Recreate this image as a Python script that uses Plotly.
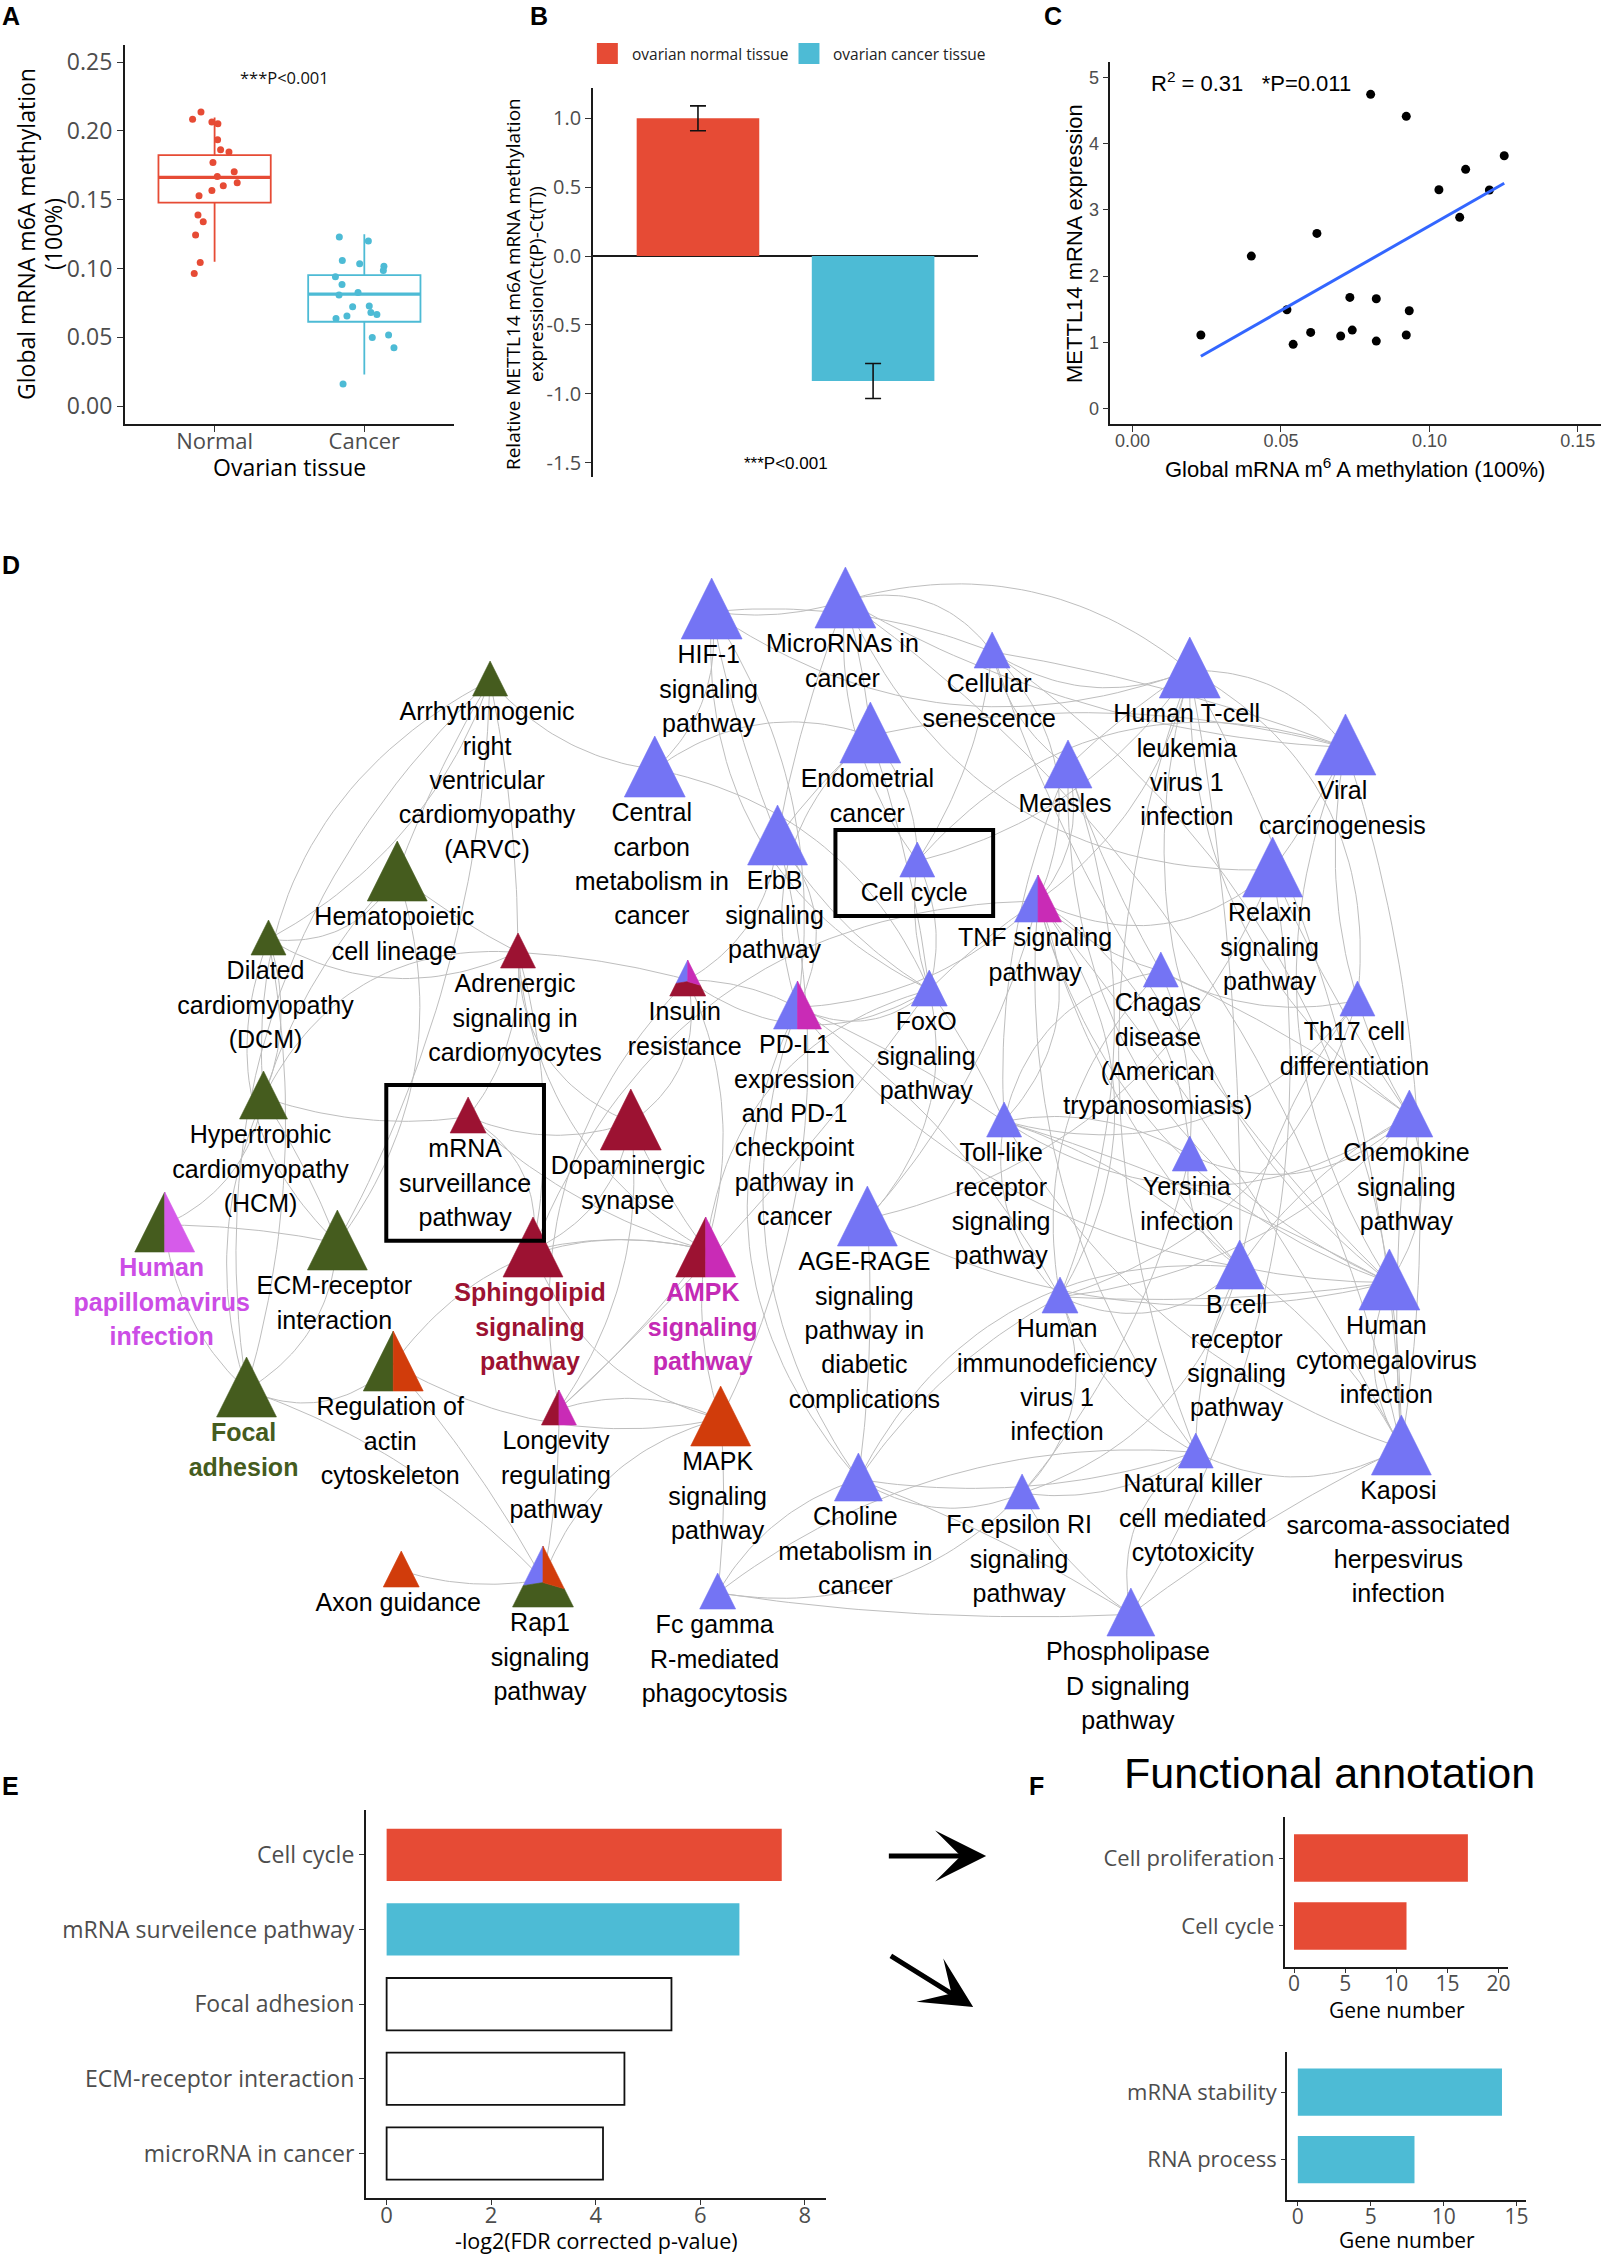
import numpy as np
import plotly.graph_objects as go

W, H = 1604, 2257
RED, BLUE = "#E64B35", "#4DBBD5"
GRAY = "#4D4D4D"
OS = "Open Sans"
AR = "Liberation Sans, Arial, sans-serif"

# ---------------- Panel A data ----------------
a_groups = ["Normal", "Cancer"]
a_q1 = [0.1478, 0.0613]
a_median = [0.1662, 0.0814]
a_q3 = [0.1824, 0.0952]
a_low = [0.1049, 0.0230]
a_high = [0.2098, 0.1248]
a_normal_vals = [0.2137, 0.2085, 0.2064, 0.2051, 0.1935, 0.1863, 0.1846, 0.1771, 0.1703, 0.1669,
                 0.1623, 0.1601, 0.1567, 0.1528, 0.1388, 0.1339, 0.1243, 0.1044, 0.0964]
a_normal_jit = [-0.091, -0.147, -0.018, 0.022, 0.020, 0.040, 0.096, -0.011, 0.131, 0.018,
                0.151, 0.058, -0.018, -0.104, -0.111, -0.076, -0.127, -0.096, -0.136]
a_cancer_vals = [0.1228, 0.1199, 0.1058, 0.1034, 0.1017, 0.0986, 0.0940, 0.0884, 0.0826, 0.0807,
                 0.0722, 0.0727, 0.0681, 0.0666, 0.0637, 0.0654, 0.0499, 0.0516, 0.0424, 0.0160]
a_cancer_jit = [-0.167, 0.027, -0.147, -0.031, 0.131, 0.127, -0.193, -0.149, -0.042, -0.169,
                -0.078, 0.033, 0.044, 0.084, -0.189, -0.116, 0.053, 0.162, 0.198, -0.142]
a_ticks = [0.00, 0.05, 0.10, 0.15, 0.20, 0.25]

# ---------------- Panel B data ----------------
b_groups = ["ovarian normal tissue", "ovarian cancer tissue"]
b_vals = [1.0, -0.907]
b_err = [0.09, 0.127]
b_ticks = [-1.5, -1.0, -0.5, 0.0, 0.5, 1.0]

# ---------------- Panel C data ----------------
c_x = [0.0802, 0.0922, 0.1252, 0.1122, 0.1032, 0.1202, 0.1102, 0.0621, 0.0400, 0.0732,
       0.0821, 0.0932, 0.0520, 0.0600, 0.0740, 0.0701, 0.0922, 0.0821, 0.0541, 0.0230]
c_y = [4.748, 4.415, 3.820, 3.614, 3.306, 3.301, 2.888, 2.646, 2.303, 1.678,
       1.658, 1.477, 1.492, 1.149, 1.184, 1.094, 1.109, 1.018, 0.968, 1.109]
c_xticks = [0.00, 0.05, 0.10, 0.15]
c_yticks = [0, 1, 2, 3, 4, 5]

# ---------------- Panel D network data ----------------
net_ids = ["arvc", "hema", "dcm", "hcm", "hpv", "ecm", "focal", "actin", "adren", "mrna",
           "dopa", "sphingo", "ampk", "longev", "mapk", "axon", "rap1", "fcg", "insulin", "hif",
           "central", "erbb", "pdl1", "foxo", "mirna", "senesc", "endo", "cellcycle", "htlv", "measles",
           "viral", "tnf", "relaxin", "chagas", "th17", "toll", "chemo", "yersinia", "agerage", "bcell",
           "hcmv", "hiv", "kaposi", "nk", "choline", "fce", "pld"]
net_x = [491, 398, 269, 264, 165, 338, 247, 394, 519, 469,
         632, 534, 707, 560, 722, 402, 544, 719, 689, 713,
         656, 779, 799, 931, 847, 994, 872, 919, 1192, 1070,
         1348, 1040, 1275, 1163, 1360, 1006, 1412, 1192, 869, 1242,
         1392, 1062, 1404, 1198, 860, 1024, 1133]
net_base = [696, 901, 955, 1119, 1252, 1270, 1417, 1391, 968, 1133,
            1150, 1277, 1277, 1425, 1446, 1587, 1607, 1609, 996, 639,
            797, 865, 1029, 1006, 628, 668, 763, 877, 698, 788,
            775, 922, 897, 987, 1016, 1137, 1137, 1171, 1246, 1289,
            1310, 1313, 1475, 1468, 1501, 1509, 1636]
net_size = [35, 60, 35, 48, 60, 60, 60, 60, 35, 36,
            61, 60, 60, 35, 60, 36, 61, 36, 36, 61,
            61, 60, 48, 36, 61, 36, 61, 35, 61, 48,
            61, 47, 60, 35, 35, 35, 47, 35, 60, 49,
            61, 36, 60, 35, 48, 35, 48]
net_fill = ["G", "G", "G", "G", "GV", "G", "G", "GO", "R", "R",
            "R", "R", "RM", "RM", "O", "O", "BOG", "B", "BMR", "B",
            "B", "B", "BM", "B", "B", "B", "B", "B", "B", "B",
            "B", "BM", "B", "B", "B", "B", "B", "B", "B", "B",
            "B", "B", "B", "B", "B", "B", "B"]
net_labels = [
    ["Arrhythmogenic", "right", "ventricular", "cardiomyopathy", "(ARVC)"],
    ["Hematopoietic", "cell lineage"],
    ["Dilated", "cardiomyopathy", "(DCM)"],
    ["Hypertrophic", "cardiomyopathy", "(HCM)"],
    ["Human", "papillomavirus", "infection"],
    ["ECM-receptor", "interaction"],
    ["Focal", "adhesion"],
    ["Regulation of", "actin", "cytoskeleton"],
    ["Adrenergic", "signaling in", "cardiomyocytes"],
    ["mRNA", "surveillance", "pathway"],
    ["Dopaminergic", "synapse"],
    ["Sphingolipid", "signaling", "pathway"],
    ["AMPK", "signaling", "pathway"],
    ["Longevity", "regulating", "pathway"],
    ["MAPK", "signaling", "pathway"],
    ["Axon guidance"],
    ["Rap1", "signaling", "pathway"],
    ["Fc gamma", "R-mediated", "phagocytosis"],
    ["Insulin", "resistance"],
    ["HIF-1", "signaling", "pathway"],
    ["Central", "carbon", "metabolism in", "cancer"],
    ["ErbB", "signaling", "pathway"],
    ["PD-L1", "expression", "and PD-1", "checkpoint", "pathway in", "cancer"],
    ["FoxO", "signaling", "pathway"],
    ["MicroRNAs in", "cancer"],
    ["Cellular", "senescence"],
    ["Endometrial", "cancer"],
    ["Cell cycle"],
    ["Human T-cell", "leukemia", "virus 1", "infection"],
    ["Measles"],
    ["Viral", "carcinogenesis"],
    ["TNF signaling", "pathway"],
    ["Relaxin", "signaling", "pathway"],
    ["Chagas", "disease", "(American", "trypanosomiasis)"],
    ["Th17 cell", "differentiation"],
    ["Toll-like", "receptor", "signaling", "pathway"],
    ["Chemokine", "signaling", "pathway"],
    ["Yersinia", "infection"],
    ["AGE-RAGE", "signaling", "pathway in", "diabetic", "complications"],
    ["B cell", "receptor", "signaling", "pathway"],
    ["Human", "cytomegalovirus", "infection"],
    ["Human", "immunodeficiency", "virus 1", "infection"],
    ["Kaposi", "sarcoma-associated", "herpesvirus", "infection"],
    ["Natural killer", "cell mediated", "cytotoxicity"],
    ["Choline", "metabolism in", "cancer"],
    ["Fc epsilon RI", "signaling", "pathway"],
    ["Phospholipase", "D signaling", "pathway"],
]
net_label_style = {"hpv": "V", "focal": "G", "sphingo": "R", "ampk": "M"}
net_highlight = ["cellcycle", "mrna"]
net_edges = [
    ("arvc", "hema"), ("arvc", "dcm"), ("arvc", "hcm"), ("arvc", "ecm"), ("arvc", "focal"), ("arvc", "adren"),
    ("arvc", "central"), ("hema", "dcm"), ("hema", "hcm"), ("hema", "ecm"), ("hema", "adren"), ("dcm", "hcm"),
    ("dcm", "ecm"), ("dcm", "focal"), ("dcm", "adren"), ("hcm", "ecm"), ("hcm", "focal"), ("hcm", "adren"),
    ("hcm", "mrna"), ("ecm", "focal"), ("ecm", "hpv"), ("focal", "hpv"), ("focal", "actin"), ("focal", "rap1"),
    ("hpv", "hcm"), ("actin", "rap1"), ("actin", "mapk"), ("actin", "ampk"), ("axon", "rap1"), ("rap1", "mapk"),
    ("rap1", "longev"),
    ("adren", "mrna"), ("adren", "dopa"), ("adren", "sphingo"), ("adren", "ampk"), ("adren", "insulin"),
    ("mrna", "dopa"), ("mrna", "sphingo"), ("mrna", "ampk"), ("dopa", "sphingo"), ("dopa", "ampk"),
    ("dopa", "longev"), ("dopa", "insulin"), ("sphingo", "ampk"), ("sphingo", "mapk"), ("ampk", "longev"),
    ("ampk", "insulin"), ("ampk", "foxo"), ("ampk", "mapk"), ("longev", "insulin"), ("longev", "foxo"),
    ("longev", "mapk"), ("insulin", "foxo"), ("insulin", "pdl1"), ("insulin", "erbb"), ("mapk", "fcg"),
    ("mapk", "erbb"), ("sphingo", "tnf"),
    ("hif", "mirna"), ("hif", "central"), ("hif", "erbb"), ("hif", "pdl1"), ("hif", "foxo"), ("hif", "senesc"),
    ("hif", "htlv"), ("mirna", "endo"), ("mirna", "cellcycle"), ("mirna", "senesc"), ("mirna", "viral"),
    ("mirna", "htlv"), ("mirna", "erbb"), ("mirna", "kaposi"), ("mirna", "relaxin"), ("senesc", "cellcycle"),
    ("senesc", "htlv"), ("senesc", "viral"), ("senesc", "measles"), ("senesc", "tnf"), ("senesc", "hcmv"),
    ("senesc", "kaposi"), ("endo", "erbb"), ("endo", "cellcycle"), ("endo", "pdl1"), ("endo", "viral"),
    ("endo", "central"), ("endo", "foxo"), ("cellcycle", "htlv"), ("cellcycle", "viral"), ("cellcycle", "foxo"),
    ("htlv", "viral"), ("htlv", "measles"), ("htlv", "tnf"), ("htlv", "hcmv"), ("htlv", "kaposi"),
    ("htlv", "chemo"), ("htlv", "bcell"), ("htlv", "nk"), ("htlv", "th17"), ("measles", "toll"),
    ("measles", "tnf"), ("measles", "chagas"), ("measles", "hiv"), ("measles", "hcmv"), ("viral", "kaposi"),
    ("viral", "hcmv"), ("viral", "relaxin"), ("viral", "chemo"), ("tnf", "toll"), ("tnf", "chagas"),
    ("tnf", "yersinia"), ("tnf", "foxo"), ("tnf", "pdl1"), ("tnf", "relaxin"), ("tnf", "agerage"),
    ("tnf", "hcmv"), ("tnf", "kaposi"), ("tnf", "nk"), ("tnf", "hiv"), ("tnf", "bcell"), ("relaxin", "agerage"),
    ("relaxin", "chemo"), ("relaxin", "pld"), ("chagas", "toll"), ("chagas", "yersinia"), ("chagas", "hiv"),
    ("chagas", "chemo"), ("chagas", "th17"), ("th17", "toll"), ("th17", "bcell"), ("th17", "hiv"),
    ("toll", "pdl1"), ("toll", "yersinia"), ("toll", "chemo"), ("toll", "bcell"), ("toll", "hiv"),
    ("toll", "hcmv"), ("toll", "kaposi"), ("chemo", "yersinia"), ("chemo", "bcell"), ("chemo", "hcmv"),
    ("chemo", "kaposi"), ("chemo", "hiv"), ("yersinia", "bcell"), ("yersinia", "fce"), ("agerage", "foxo"),
    ("agerage", "choline"), ("agerage", "hcmv"), ("bcell", "hiv"), ("bcell", "nk"), ("bcell", "fce"),
    ("bcell", "hcmv"), ("bcell", "pdl1"), ("bcell", "choline"), ("bcell", "kaposi"), ("hcmv", "kaposi"),
    ("hcmv", "hiv"), ("hiv", "nk"), ("hiv", "fce"), ("hiv", "choline"), ("kaposi", "nk"), ("kaposi", "pld"),
    ("nk", "fce"), ("nk", "pld"), ("nk", "choline"), ("choline", "fce"), ("choline", "pld"), ("choline", "fcg"),
    ("choline", "pdl1"), ("fce", "pld"), ("fce", "fcg"), ("fcg", "pld"), ("fcg", "nk"), ("pdl1", "foxo"),
    ("pdl1", "hiv"), ("pdl1", "choline"), ("foxo", "toll"), ("foxo", "cellcycle"), ("erbb", "pdl1"),
    ("erbb", "foxo"), ("central", "foxo"),
]

# ---------------- Panel E data ----------------
e_terms = ["Cell cycle", "mRNA surveilence pathway", "Focal adhesion", "ECM-receptor interaction", "microRNA in cancer"]
e_vals = [7.56, 6.75, 5.45, 4.55, 4.14]
e_ticks = [0, 2, 4, 6, 8]

# ---------------- Panel F data ----------------
f1_terms = ["Cell proliferation", "Cell cycle"]
f1_vals = [17, 11]
f1_ticks = [0, 5, 10, 15, 20]
f2_terms = ["mRNA stability", "RNA process"]
f2_vals = [14, 8]
f2_ticks = [0, 5, 10, 15]


def X(px):
    return px / W


def Y(py):
    return 1 - py / H


fig = go.Figure()

# ================= Panel A =================
a_cols = [RED, BLUE]
for gi in range(2):
    pos = gi + 1
    fig.add_trace(go.Box(x=[pos], q1=[a_q1[gi]], median=[a_median[gi]], q3=[a_q3[gi]],
                         lowerfence=[a_low[gi]], upperfence=[a_high[gi]], width=0.75,
                         fillcolor="white", line=dict(color=a_cols[gi], width=1.8),
                         whiskerwidth=0, xaxis="x", yaxis="y", hoverinfo="skip"))
    fig.add_trace(go.Scatter(x=[pos - 0.375, pos + 0.375], y=[a_median[gi]] * 2, mode="lines",
                             line=dict(color=a_cols[gi], width=3.4), xaxis="x", yaxis="y", hoverinfo="skip"))
fig.add_trace(go.Scatter(x=[1 + j for j in a_normal_jit], y=a_normal_vals, mode="markers",
                         marker=dict(size=7, color=RED), xaxis="x", yaxis="y"))
fig.add_trace(go.Scatter(x=[2 + j for j in a_cancer_jit], y=a_cancer_vals, mode="markers",
                         marker=dict(size=7, color=BLUE), xaxis="x", yaxis="y"))

# ================= Panel B =================
fig.add_trace(go.Bar(x=[1, 2], y=b_vals, width=0.7, marker=dict(color=[RED, BLUE], line=dict(width=0)),
                     error_y=dict(type="data", array=b_err, color="#111111", thickness=1.6, width=8),
                     xaxis="x2", yaxis="y2"))

# ================= Panel C =================
fig.add_trace(go.Scatter(x=c_x, y=c_y, mode="markers", marker=dict(size=9, color="black"),
                         xaxis="x3", yaxis="y3"))
slope, icpt = np.polyfit(c_x, c_y, 1)
fx = np.array([min(c_x), max(c_x)])
fig.add_trace(go.Scatter(x=fx, y=slope * fx + icpt, mode="lines", line=dict(color="#3366FF", width=3),
                         xaxis="x3", yaxis="y3"))

# ================= Panel D (network) =================
COL = {"B": "#7474F4", "G": "#455C1E", "R": "#9C1232", "M": "#C92BB6", "V": "#D65BEA", "O": "#D13C0B"}
LABCOL = {"V": "#CC4DE6", "G": "#455C1E", "R": "#9C1232", "M": "#C42AB5"}
idx = {k: i for i, k in enumerate(net_ids)}

ex, ey = [], []
t = np.linspace(0, 1, 36)[:, None]
for i, (a, b) in enumerate(net_edges):
    ia, ib = idx[a], idx[b]
    p0 = np.array([net_x[ia], net_base[ia] - 0.45 * net_size[ia]], float)
    p2 = np.array([net_x[ib], net_base[ib] - 0.45 * net_size[ib]], float)
    d = p2 - p0
    L = np.hypot(d[0], d[1])
    n = np.array([-d[1], d[0]]) / L
    sgn = 1 if i % 2 == 0 else -1
    c = sgn * (0.05 + 0.07 * ((i * 7) % 5))
    p1 = (p0 + p2) / 2 + c * L * n
    pts = (1 - t) ** 2 * p0 + 2 * (1 - t) * t * p1 + t ** 2 * p2
    ex += list(pts[:, 0]) + [None]
    ey += list(pts[:, 1]) + [None]
fig.add_trace(go.Scatter(x=ex, y=ey, mode="lines", line=dict(color="#BEBEBE", width=1),
                         xaxis="x4", yaxis="y4", hoverinfo="skip"))

polys = {k: ([], []) for k in COL}


def add_poly(ck, pts):
    xs, ys = polys[ck]
    for p in pts:
        xs.append(p[0])
        ys.append(p[1])
    xs.append(pts[0][0])
    ys.append(pts[0][1])
    xs.append(None)
    ys.append(None)


for i in range(len(net_ids)):
    x, b, h = net_x[i], net_base[i], net_size[i]
    A = (x, b - h)
    BL = (x - h / 2, b)
    BR = (x + h / 2, b)
    cols = net_fill[i]
    if len(cols) == 1:
        add_poly(cols, [A, BL, BR])
    elif len(cols) == 2:
        Mid = (x, b)
        add_poly(cols[0], [A, BL, Mid])
        add_poly(cols[1], [A, Mid, BR])
    else:
        Cc = (x, b - 0.4 * h)
        Lp = (A[0] + 0.65 * (BL[0] - A[0]), A[1] + 0.65 * (BL[1] - A[1]))
        Rp = (A[0] + 0.7 * (BR[0] - A[0]), A[1] + 0.7 * (BR[1] - A[1]))
        add_poly(cols[0], [A, Lp, Cc])
        add_poly(cols[1], [A, Cc, Rp])
        add_poly(cols[2], [Lp, BL, BR, Rp, Cc])

for ck, (xs, ys) in polys.items():
    if xs:
        fig.add_trace(go.Scatter(x=xs, y=ys, mode="lines", fill="toself", fillcolor=COL[ck],
                                 line=dict(color=COL[ck], width=0.6), xaxis="x4", yaxis="y4",
                                 hoverinfo="skip"))

LINE_H = 34.4
lx, ly, lt, lc = [], [], [], []
for i, k in enumerate(net_ids):
    style = net_label_style.get(k, "")
    for j, line in enumerate(net_labels[i]):
        lx.append(net_x[i] - 3)
        ly.append(net_base[i] + 18 + j * LINE_H)
        lt.append(f"<b>{line}</b>" if style else line)
        lc.append(LABCOL[style] if style else "#000000")
fig.add_trace(go.Scatter(x=lx, y=ly, text=lt, mode="text", textposition="middle center",
                         textfont=dict(family=AR, size=25, color=lc), xaxis="x4", yaxis="y4",
                         hoverinfo="skip"))

shapes = []
for k in net_highlight:
    i = idx[k]
    cx = net_x[i] - 3
    top = net_base[i] - net_size[i] - 12
    bottom = net_base[i] + 18 + (len(net_labels[i]) - 1) * LINE_H + 21
    shapes.append(dict(type="rect", xref="x4", yref="y4", x0=cx - 79, x1=cx + 79, y0=top, y1=bottom,
                       line=dict(color="black", width=4), fillcolor="rgba(0,0,0,0)"))

# ================= Panel E =================
e_pos = list(range(len(e_terms), 0, -1))
fig.add_trace(go.Bar(x=e_vals, y=e_pos, orientation="h", width=0.7,
                     marker=dict(color=[RED, BLUE, "white", "white", "white"],
                                 line=dict(color=["rgba(0,0,0,0)", "rgba(0,0,0,0)", "#111", "#111", "#111"],
                                           width=1.8)),
                     xaxis="x5", yaxis="y5"))

# ================= Panel F =================
fig.add_trace(go.Bar(x=f1_vals, y=[2, 1], orientation="h", width=0.7, marker=dict(color=RED, line=dict(width=0)),
                     xaxis="x6", yaxis="y6"))
fig.add_trace(go.Bar(x=f2_vals, y=[2, 1], orientation="h", width=0.7, marker=dict(color=BLUE, line=dict(width=0)),
                     xaxis="x7", yaxis="y7"))


# ================= Layout =================
def ax(**kw):
    d = dict(showgrid=False, zeroline=False, showline=True, linecolor="#1a1a1a", linewidth=1.6,
             ticks="outside", ticklen=6, tickwidth=1.4, tickcolor="#333333", fixedrange=True)
    d.update(kw)
    return d


f_os = lambda s: dict(family=OS, size=s, color=GRAY)
f_ar = lambda s: dict(family=AR, size=s, color=GRAY)

layout = dict(
    width=W, height=H, margin=dict(l=0, r=0, t=0, b=0),
    paper_bgcolor="white", plot_bgcolor="rgba(0,0,0,0)", showlegend=False,
    xaxis=ax(domain=[X(125), X(455)], range=[0.4, 2.6], tickvals=[1, 2], ticktext=a_groups,
             tickfont=f_os(22), anchor="y", ticklabelstandoff=-9),
    yaxis=ax(domain=[Y(424), Y(45)], range=[-0.013, 0.2624], tickvals=a_ticks,
             ticktext=[f"{v:.2f}" for v in a_ticks], tickfont=f_os(23), anchor="x"),
    xaxis2=ax(domain=[X(594), X(980)], range=[0.4, 2.6], showline=False, ticks="",
              showticklabels=False, anchor="y2"),
    yaxis2=ax(domain=[Y(477), Y(88)], range=[-1.604, 1.22], tickvals=b_ticks,
              ticktext=[f"{v:.1f}" for v in b_ticks], tickfont=f_os(20), anchor="x2",
              zeroline=True, zerolinecolor="#1a1a1a", zerolinewidth=1.6),
    xaxis3=ax(domain=[X(1112.4), 1.0], range=[-0.0075, 0.1578], tickvals=c_xticks,
              ticktext=[f"{v:.2f}" for v in c_xticks], tickfont=f_ar(18), anchor="y3",
              ticklabelstandoff=-6),
    yaxis3=ax(domain=[Y(424), Y(62)], range=[-0.236, 5.237], tickvals=c_yticks,
              ticktext=[str(v) for v in c_yticks], tickfont=f_ar(18), anchor="x3"),
    xaxis4=dict(domain=[0, 1], range=[0, W], visible=False, fixedrange=True, anchor="y4"),
    yaxis4=dict(domain=[0, 1], range=[H, 0], visible=False, fixedrange=True, anchor="x4"),
    xaxis5=ax(domain=[X(366.4), X(827.2)], range=[-0.4, 8.4], tickvals=e_ticks,
              ticktext=[str(v) for v in e_ticks], tickfont=f_os(22), anchor="y5", ticklen=5,
              ticklabelstandoff=-9),
    yaxis5=ax(domain=[Y(2198.3), Y(1810)], range=[0.4, 5.6], tickvals=e_pos, ticktext=e_terms,
              tickfont=f_os(23), anchor="x5", ticklen=5),
    xaxis6=ax(domain=[X(1287), X(1510.8)], range=[-0.92, 20.92], tickvals=f1_ticks,
              ticktext=[str(v) for v in f1_ticks], tickfont=f_os(21), anchor="y6", ticklen=4,
              ticklabelstandoff=-7),
    yaxis6=ax(domain=[Y(1966.7), Y(1817.3)], range=[0.4, 2.6], tickvals=[2, 1], ticktext=f1_terms,
              tickfont=f_os(22), anchor="x6", ticklen=4),
    xaxis7=ax(domain=[X(1289.3), X(1528.9)], range=[-0.75, 15.65], tickvals=f2_ticks,
              ticktext=[str(v) for v in f2_ticks], tickfont=f_os(21), anchor="y7", ticklen=4,
              ticklabelstandoff=-7),
    yaxis7=ax(domain=[Y(2200), Y(2051.7)], range=[0.4, 2.6], tickvals=[2, 1], ticktext=f2_terms,
              tickfont=f_os(22), anchor="x7", ticklen=4),
)


def ann(x, y, text, size, family=OS, color="#000000", xanchor="center", yanchor="middle", angle=0):
    return dict(x=x, y=y, xref="x4", yref="y4", text=text, showarrow=False,
                font=dict(family=family, size=size, color=color), xanchor=xanchor, yanchor=yanchor,
                textangle=angle)


annotations = [
    # panel letters
    ann(11, 16, "<b>A</b>", 25, AR), ann(540, 16, "<b>B</b>", 25, AR), ann(1055, 16, "<b>C</b>", 25, AR),
    ann(11, 565, "<b>D</b>", 25, AR), ann(11, 1786, "<b>E</b>", 25, AR), ann(1038, 1786, "<b>F</b>", 25, AR),
    # panel A
    ann(26, 234, "Global mRNA m6A methylation", 23, angle=-90),
    ann(53, 234, "(100%)", 23, angle=-90),
    ann(290, 467, "Ovarian tissue", 23),
    ann(285, 77, "***P<0.001", 16.5, color="#111111"),
    # panel B
    ann(631, 53.5, b_groups[0], 15.5, color="#222222", xanchor="left"),
    ann(833, 53.5, b_groups[1], 15.5, color="#222222", xanchor="left"),
    ann(514, 284, "Relative METTL14 m6A mRNA methylation", 19, angle=-90),
    ann(537, 284, "expression(Ct(P)-Ct(T))", 19, angle=-90),
    ann(787, 463, "***P<0.001", 17, AR),
    # panel C
    ann(1076, 243, "METTL14 mRNA expression", 22, AR, angle=-90),
    ann(1357.6, 468, "Global mRNA m<sup>6</sup> A methylation (100%)", 22, AR),
    ann(1150.8, 82, "R<sup>2</sup> = 0.31\u00a0\u00a0\u00a0*P=0.011", 22, AR, xanchor="left"),
    # panel E
    ann(598, 2240, "-log2(FDR corrected p-value)", 21.5),
    # panel F
    ann(1332, 1773, "Functional annotation", 43, AR),
    ann(1399.6, 2010, "Gene number", 21),
    ann(1409.3, 2240, "Gene number", 21),
    # arrows
    dict(x=988, y=1856, ax=889, ay=1856, xref="x4", yref="y4", axref="x4", ayref="y4", text="",
         showarrow=True, arrowhead=3, arrowsize=1.7, arrowwidth=5, arrowcolor="black"),
    dict(x=975, y=2007, ax=891, ay=1955, xref="x4", yref="y4", axref="x4", ayref="y4", text="",
         showarrow=True, arrowhead=3, arrowsize=1.7, arrowwidth=5, arrowcolor="black"),
]

# legend squares for panel B
shapes.append(dict(type="rect", xref="x4", yref="y4", x0=598, x1=619, y0=43, y1=64, fillcolor=RED,
                   line=dict(width=0)))
shapes.append(dict(type="rect", xref="x4", yref="y4", x0=800, x1=821, y0=43, y1=64, fillcolor=BLUE,
                   line=dict(width=0)))

layout["annotations"] = annotations
layout["shapes"] = shapes
fig.update_layout(**layout)
fig.write_html("out.html", config={"displayModeBar": False},
               post_script="document.body.style.margin='0px';")
